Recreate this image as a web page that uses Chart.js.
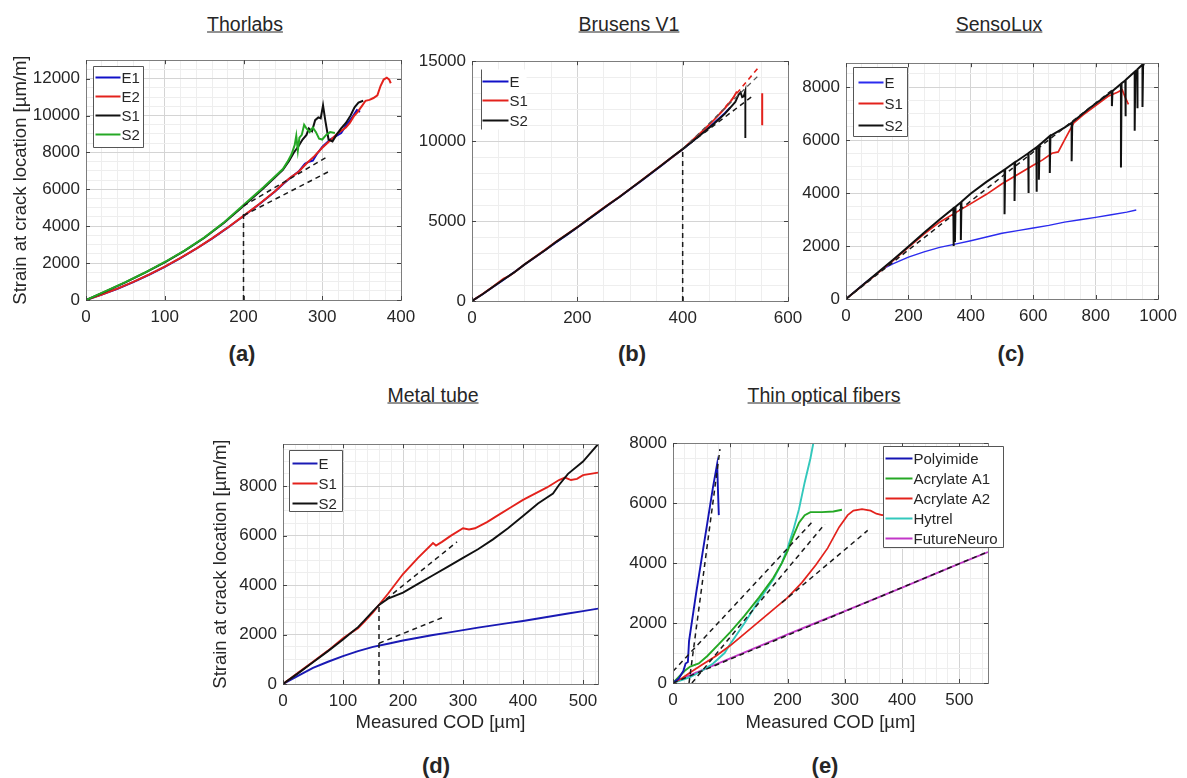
<!DOCTYPE html>
<html>
<head>
<meta charset="utf-8">
<script src="https://cdn.jsdelivr.net/npm/chart.js@4.4.1/dist/chart.umd.min.js"></script>
<style>
  body { margin: 0; width: 1187px; height: 778px; background: #fff; position: relative; overflow: hidden;
         font-family: "Liberation Sans", Arial, sans-serif; color: #262626; }
  canvas { position: absolute; }
  .ttl { position: absolute; transform: translate(-50%, -50%); font-size: 19.5px; text-decoration: underline; white-space: nowrap; }
  .lbl { position: absolute; transform: translate(-50%, -50%); font-size: 22px; font-weight: bold; }
</style>
</head>
<body>
<div class="ttl" style="left:245px;top:24px">Thorlabs</div>
<div class="ttl" style="left:629px;top:24px">Brusens V1</div>
<div class="ttl" style="left:999px;top:24px">SensoLux</div>
<div class="ttl" style="left:433px;top:395px">Metal tube</div>
<div class="ttl" style="left:824px;top:395px">Thin optical fibers</div>
<div class="lbl" style="left:242px;top:354px">(a)</div>
<div class="lbl" style="left:632px;top:354px">(b)</div>
<div class="lbl" style="left:1011px;top:354px">(c)</div>
<div class="lbl" style="left:436px;top:766px">(d)</div>
<div class="lbl" style="left:825px;top:766px">(e)</div>
<script>
// ---- tick labels ----
const aXTicks = [0, 100, 200, 300, 400];
const aYTicks = [0, 2000, 4000, 6000, 8000, 10000, 12000];
const bXTicks = [0, 200, 400, 600];
const bYTicks = [0, 5000, 10000, 15000];
const cXTicks = [0, 200, 400, 600, 800, 1000];
const cYTicks = [0, 2000, 4000, 6000, 8000];
const dXTicks = [0, 100, 200, 300, 400, 500];
const dYTicks = [0, 2000, 4000, 6000, 8000];
const eXTicks = [0, 100, 200, 300, 400, 500];
const eYTicks = [0, 2000, 4000, 6000, 8000];

// ---- (a) Thorlabs: [COD, strain] ----
const thorE1 = [[0,0],[20,290],[40,610],[60,970],[80,1370],[100,1800],[120,2270],[140,2780],[160,3330],[180,3920],[200,4550],[220,5190],[240,5880],[250,6280],[260,6640],[270,6960],[278,7380],[283,7500],[288,7550],[293,7900],[300,8300],[310,8700],[318,8900],[324,9050],[330,9450],[338,9900],[344,10300],[348,10200]];
const thorE2 = [[0,0],[20,300],[40,620],[60,980],[80,1380],[100,1810],[120,2280],[140,2790],[160,3340],[180,3930],[200,4560],[220,5200],[240,5900],[250,6300],[260,6650],[270,6950],[280,7400],[290,7800],[300,8250],[310,8650],[320,9050],[330,9350],[335,9600],[340,9950],[345,10200],[350,10500],[355,10800],[360,10850],[365,10950],[370,11100],[374,11600],[378,11950],[382,12050],[385,11950],[387,11750]];
const thorS1 = [[0,0],[25,470],[50,960],[75,1480],[100,2040],[125,2660],[150,3360],[175,4180],[200,5100],[225,6050],[250,7050],[258,7550],[264,8000],[270,8350],[275,8700],[280,8950],[283,9300],[287,9150],[291,9750],[295,9900],[298,9850],[301,10550],[304,9700],[308,8700],[313,8600],[318,8950],[324,9300],[330,9600],[336,10000],[341,10450],[346,10700],[352,10800]];
const thorS2 = [[0,0],[25,480],[50,970],[75,1490],[100,2060],[125,2680],[150,3380],[175,4200],[200,5150],[225,6100],[250,7100],[256,7500],[261,7900],[265,8400],[267,8900],[269,8100],[271,8800],[274,8950],[277,9500],[280,9300],[284,9100],[288,9350],[292,9100],[296,8750],[300,8700],[305,8950],[310,9100],[316,9050]];
const thorDashV = [[200,0],[200,4700]];
const thorDashS = [[200,5100],[305,7730]];
const thorDashE = [[200,4580],[310,7000]];

// ---- (b) Brusens V1 ----
const brE  = [[0,0],[20,420],[40,880],[60,1330],[80,1800],[100,2280],[120,2740],[140,3200],[160,3680],[180,4130],[200,4600],[220,5080],[240,5560],[260,6040],[280,6500],[300,6990],[320,7480],[340,7980],[360,8480],[380,8990],[400,9500],[420,10030],[440,10580],[460,11150],[480,11750],[490,12100]];
const brS1 = [[0,0],[20,440],[40,900],[60,1400],[70,1550],[80,1780],[100,2300],[120,2760],[140,3230],[160,3720],[180,4170],[200,4620],[220,5120],[240,5600],[260,6060],[280,6520],[300,7000],[320,7500],[340,8000],[360,8500],[380,9000],[400,9500],[420,10100],[440,10700],[460,11350],[480,12050],[495,12650],[503,13100]];
const brS2 = [[0,0],[20,420],[40,890],[60,1350],[80,1790],[100,2290],[120,2750],[140,3210],[160,3700],[180,4150],[200,4610],[220,5090],[240,5570],[260,6050],[280,6510],[300,7000],[320,7490],[340,7990],[360,8490],[380,9000],[400,9500],[420,10020],[440,10550],[460,11100],[480,11700],[500,12450],[506,12900],[510,13050],[513,12750],[516,12800],[519,13150],[519,10200]];
const brRedDash = [[470,11700],[545,14650]];
const brRedDrop = [[551,11000],[551,13000]];
const brDashV = [[400,0],[400,9500]];
const brDash1 = [[400,9500],[534,12850]];
const brDash2 = [[400,9500],[547,14200]];

// ---- (c) SensoLux ----
const snE  = [[0,0],[30,300],[60,600],[90,880],[120,1150],[150,1330],[200,1580],[250,1780],[300,1950],[350,2070],[400,2200],[450,2340],[500,2480],[550,2580],[600,2680],[650,2780],[700,2900],[750,2990],[800,3080],[850,3180],[900,3280],[930,3360]];
const snS1 = [[0,0],[50,480],[100,960],[150,1440],[200,1950],[250,2450],[300,2900],[350,3250],[400,3600],[450,3950],[500,4350],[550,4700],[600,5050],[630,5250],[660,5500],[680,5550],[700,6000],[730,6650],[760,6950],[800,7300],[840,7650],[870,7800],[885,7900],[895,7600],[905,7350]];
const snS2 = [[0,0],[50,490],[100,980],[150,1470],[200,1980],[250,2500],[300,3000],[344,3420],[344,2000],[346,3440],[349,3460],[349,2150],[351,3480],[368,3650],[368,2230],[370,3670],[400,3980],[450,4420],[508,4880],[508,3200],[510,4900],[540,5150],[540,3700],[542,5160],[584,5500],[584,4000],[586,5510],[610,5720],[610,4050],[612,5730],[618,5800],[618,4500],[620,5810],[653,6150],[653,4760],[655,6160],[700,6470],[723,6650],[723,5200],[725,6670],[780,7200],[820,7550],[852,7830],[852,7280],[854,7850],[881,8120],[881,4960],[883,8140],[895,8250],[895,6900],[897,8270],[925,8580],[925,6350],[927,8600],[933,8650],[933,7200],[935,8670],[950,8850],[950,7250],[952,8850],[956,8820]];
const snDash = [[0,0],[860,7950]];

// ---- (d) Metal tube ----
const mtE  = [[0,0],[25,330],[50,650],[75,900],[100,1130],[125,1330],[150,1500],[175,1630],[200,1760],[225,1870],[250,1980],[275,2080],[300,2180],[325,2280],[350,2370],[375,2460],[400,2550],[425,2650],[450,2750],[475,2850],[500,2950],[525,3050]];
const mtS1 = [[0,0],[25,450],[50,900],[75,1350],[100,1850],[115,2100],[125,2250],[135,2500],[150,2900],[160,3200],[175,3650],[200,4450],[225,5100],[250,5700],[255,5600],[265,5750],[280,6000],[300,6300],[310,6250],[320,6300],[340,6550],[360,6850],[380,7150],[400,7450],[420,7700],[440,7950],[460,8250],[470,8350],[480,8250],[490,8300],[500,8450],[525,8550]];
const mtS2 = [[0,0],[25,430],[50,880],[75,1330],[100,1800],[115,2100],[125,2300],[135,2550],[150,2950],[160,3200],[175,3450],[200,3700],[225,4050],[250,4400],[275,4750],[300,5100],[325,5450],[350,5850],[375,6300],[400,6800],[425,7300],[450,7700],[460,8050],[475,8500],[500,9000],[525,9700]];
const mtDashV = [[160,0],[160,3200]];
const mtDashS = [[160,3200],[290,5750]];
const mtDashE = [[160,1650],[265,2680]];

// ---- (e) Thin optical fibers ----
const tfPoly = [[0,0],[10,150],[18,400],[22,650],[26,700],[28,1400],[40,2950],[50,4150],[60,5350],[70,6550],[77,7300],[80,5600]];
const tfA1   = [[0,0],[10,200],[20,400],[30,550],[45,650],[60,900],[80,1300],[100,1700],[125,2250],[150,2850],[175,3500],[190,4000],[200,4400],[210,4900],[220,5350],[230,5600],[240,5700],[260,5700],[280,5720],[295,5780]];
const tfA2   = [[0,0],[15,150],[30,350],[50,600],[75,900],[100,1250],[125,1650],[150,2050],[175,2450],[200,2850],[225,3350],[250,3950],[270,4500],[290,5200],[305,5600],[315,5750],[330,5800],[345,5750],[355,5650],[365,5600],[372,5620]];
const tfHyt  = [[0,0],[15,100],[30,200],[50,400],[70,650],[90,1000],[100,1300],[125,2000],[150,2750],[175,3450],[190,4000],[200,4500],[210,5100],[220,5800],[230,6700],[240,7500],[245,8000]];
const tfFN   = [[0,0],[25,220],[50,420],[75,620],[100,820],[150,1220],[200,1620],[250,2010],[300,2400],[350,2790],[400,3180],[450,3580],[500,3980],[550,4370]];
const tfDashP  = [[28,0],[82,7800]];
const tfDashA1 = [[0,390],[242,5350]];
const tfDashH  = [[33,0],[265,5300]];
const tfDashA2 = [[190,2680],[340,5090]];
const tfDashFN = [[0,0],[550,4380]];

// ---- styling ----
const FONT = '"Liberation Sans", Arial, sans-serif';
Chart.defaults.font.family = FONT;
const RED = '#e3221c', BLUE = '#1010c8', BLACK = '#111111', GREEN = '#25a825',
      CYAN = '#33c8bc', MAGENTA = '#c236c8', INK = '#262626';

function line(label, pts, color, width, order) {
  return {
    label: label, data: pts.map(p => ({ x: p[0], y: p[1] })),
    borderColor: color, borderWidth: width || 1.9, pointRadius: 0,
    fill: false, tension: 0, order: order || 0
  };
}
function dash(pts, color, width) {
  const d = line('', pts, color || '#1a1a1a', width || 1.5, -1);
  d.borderDash = [5, 4];
  return d;
}

function axis(min, max, majors, minor, size, isY, title) {
  const o = {
    type: 'linear', min: min, max: max,
    afterBuildTicks: s => {
      const t = [];
      for (let v = min; v <= max + 1e-6; v += minor) t.push({ value: v });
      s.ticks = t;
    },
    afterFit: s => { if (isY) s.width = size; else s.height = size; },
    ticks: {
      autoSkip: false, maxRotation: 0, minRotation: 0, color: INK,
      font: { size: 17 }, padding: isY ? 6 : 7,
      callback: v => majors.includes(v) ? String(v) : ''
    },
    grid: {
      drawTicks: false, lineWidth: 1,
      color: c => (c.tick && majors.includes(c.tick.value)) ? '#d4d4d4' : '#eeeeee'
    },
    border: { display: false }
  };
  if (title) {
    o.title = { display: true, text: title, color: INK, font: { size: 18.5 },
                padding: isY ? { top: 10, bottom: 0 } : { top: 4, bottom: 4 } };
  }
  return o;
}

function framePlugin(xMaj, yMaj) {
  return {
    id: 'frame',
    afterDatasetsDraw(chart) {
      const { ctx, chartArea: a, scales } = chart;
      ctx.save();
      ctx.strokeStyle = '#7d7d7d';
      ctx.lineWidth = 1;
      ctx.strokeRect(Math.round(a.left) + 0.5, Math.round(a.top) + 0.5,
                     Math.round(a.right - a.left), Math.round(a.bottom - a.top));
      ctx.strokeStyle = '#444';
      ctx.beginPath();
      xMaj.forEach(v => {
        const px = Math.round(scales.x.getPixelForValue(v)) + 0.5;
        ctx.moveTo(px, a.bottom); ctx.lineTo(px, a.bottom - 4);
        ctx.moveTo(px, a.top); ctx.lineTo(px, a.top + 4);
      });
      yMaj.forEach(v => {
        const py = Math.round(scales.y.getPixelForValue(v)) + 0.5;
        ctx.moveTo(a.left, py); ctx.lineTo(a.left + 4, py);
        ctx.moveTo(a.right, py); ctx.lineTo(a.right - 4, py);
      });
      ctx.stroke();
      ctx.restore();
    }
  };
}

function legendPlugin(lg) {
  return {
    id: 'boxLegend',
    afterDraw(chart) {
      const { ctx, chartArea: a } = chart;
      const x0 = Math.round(a.left + lg.dx) + 0.5, y0 = Math.round(a.top + lg.dy) + 0.5;
      ctx.save();
      ctx.fillStyle = '#fff';
      ctx.fillRect(x0, y0, lg.w, lg.h);
      ctx.strokeStyle = '#555';
      ctx.lineWidth = 1;
      ctx.beginPath();
      if (lg.leftOnly) { ctx.moveTo(x0, y0); ctx.lineTo(x0, y0 + lg.h); }
      else ctx.rect(x0, y0, lg.w, lg.h);
      ctx.stroke();
      ctx.font = '15px ' + FONT;
      ctx.textBaseline = 'middle';
      lg.labels.forEach((lbl, i) => {
        const ds = chart.data.datasets.find(d => d.label === lbl);
        const cy = Math.round(y0 + lg.first + i * lg.step) + 0.5;
        ctx.strokeStyle = ds.borderColor;
        ctx.lineWidth = 2;
        ctx.beginPath();
        ctx.moveTo(x0 + lg.s0, cy); ctx.lineTo(x0 + lg.s1, cy);
        ctx.stroke();
        ctx.fillStyle = INK;
        ctx.fillText(lbl, x0 + lg.s1 + 1, cy + 1);
      });
      ctx.restore();
    }
  };
}

const PAD_T = 12, PAD_R = 22;
function makePanel(p) {
  const cv = document.createElement('canvas');
  const left = p.area[0] - p.yW, top = p.area[1] - PAD_T;
  cv.width = p.area[2] - left + PAD_R;
  cv.height = p.area[3] - top + p.xH;
  cv.style.left = left + 'px';
  cv.style.top = top + 'px';
  document.body.appendChild(cv);
  new Chart(cv, {
    type: 'line',
    data: { datasets: p.datasets },
    options: {
      responsive: false, animation: false, events: [],
      layout: { padding: { top: PAD_T, right: PAD_R, left: 0, bottom: 0 } },
      plugins: { legend: { display: false }, tooltip: { enabled: false } },
      scales: {
        x: axis(0, p.xMax, p.xTicks, p.xMinor, p.xH, false, p.xTitle),
        y: axis(0, p.yMax, p.yTicks, p.yMinor, p.yW, true, p.yTitle)
      }
    },
    plugins: [framePlugin(p.xTicks, p.yTicks), legendPlugin(p.legend)]
  });
}

const Y_TITLE = 'Strain at crack location [µm/m]';
const X_TITLE = 'Measured COD [µm]';

makePanel({
  area: [86, 56, 401, 300], yW: 86, xH: 30,
  xMax: 400, xTicks: aXTicks, xMinor: 20, yMax: 13000, yTicks: aYTicks, yMinor: 500,
  yTitle: Y_TITLE,
  datasets: [
    dash(thorDashV), dash(thorDashS), dash(thorDashE),
    line('S2', thorS2, GREEN, 2, 1), line('S1', thorS1, BLACK, 2, 2),
    line('E2', thorE2, RED, 2, 3), line('E1', thorE1, BLUE, 2, 4)
  ],
  legend: { labels: ['E1', 'E2', 'S1', 'S2'], dx: 7, dy: 6, w: 50, h: 81, first: 10, step: 19, s0: 2, s1: 27 }
});

makePanel({
  area: [472, 57, 788, 301], yW: 70, xH: 30,
  xMax: 600, xTicks: bXTicks, xMinor: 50, yMax: 15000, yTicks: bYTicks, yMinor: 1000,
  datasets: [
    dash(brDashV), dash(brDash1), dash(brDash2, '#555555', 1.2), dash(brRedDash, RED, 1.6),
    line('S2', brS2, BLACK, 1.9, 1), line('S1', brS1, RED, 1.9, 2), line('E', brE, BLUE, 1.9, 3),
    line('', brRedDrop, RED, 2, 1)
  ],
  legend: { labels: ['E', 'S1', 'S2'], dx: 9, dy: 8, w: 45, h: 60, first: 11, step: 19.5, s0: 1, s1: 27, leftOnly: true }
});

makePanel({
  area: [846, 59, 1162, 299], yW: 70, xH: 30,
  xMax: 1000, xTicks: cXTicks, xMinor: 50, yMax: 8900, yTicks: cYTicks, yMinor: 500,
  datasets: [
    dash(snDash),
    line('S2', snS2, BLACK, 2, 1), line('S1', snS1, RED, 1.7, 2), line('E', snE, '#2b2bee', 1.4, 3)
  ],
  legend: { labels: ['E', 'S1', 'S2'], dx: 7, dy: 4, w: 54, h: 69, first: 14, step: 21.5, s0: 5, s1: 30 }
});

makePanel({
  area: [283, 440, 598, 684], yW: 83, xH: 54,
  xMax: 525, xTicks: dXTicks, xMinor: 20, yMax: 9700, yTicks: dYTicks, yMinor: 500,
  yTitle: Y_TITLE, xTitle: X_TITLE,
  datasets: [
    dash(mtDashV), dash(mtDashS), dash(mtDashE),
    line('S2', mtS2, BLACK, 1.9, 1), line('S1', mtS1, RED, 1.9, 2), line('E', mtE, '#1a1ab4', 1.9, 3)
  ],
  legend: { labels: ['E', 'S1', 'S2'], dx: 6, dy: 6, w: 53, h: 61, first: 12, step: 20, s0: 3, s1: 28 }
});

makePanel({
  area: [673, 439, 988, 683], yW: 70, xH: 55,
  xMax: 550, xTicks: eXTicks, xMinor: 20, yMax: 8000, yTicks: eYTicks, yMinor: 500,
  xTitle: X_TITLE,
  datasets: [
    dash(tfDashP), dash(tfDashA1), dash(tfDashH), dash(tfDashA2), dash(tfDashFN),
    line('Polyimide', tfPoly, '#1414b4', 1.9, 1), line('Acrylate A1', tfA1, GREEN, 1.9, 2),
    line('Acrylate A2', tfA2, RED, 1.7, 3), line('Hytrel', tfHyt, CYAN, 1.9, 4),
    line('FutureNeuro', tfFN, MAGENTA, 1.9, 5)
  ],
  legend: { labels: ['Polyimide', 'Acrylate A1', 'Acrylate A2', 'Hytrel', 'FutureNeuro'],
            dx: 210, dy: 3, w: 120, h: 101, first: 11, step: 20, s0: 2, s1: 29 }
});
</script>
</body>
</html>
